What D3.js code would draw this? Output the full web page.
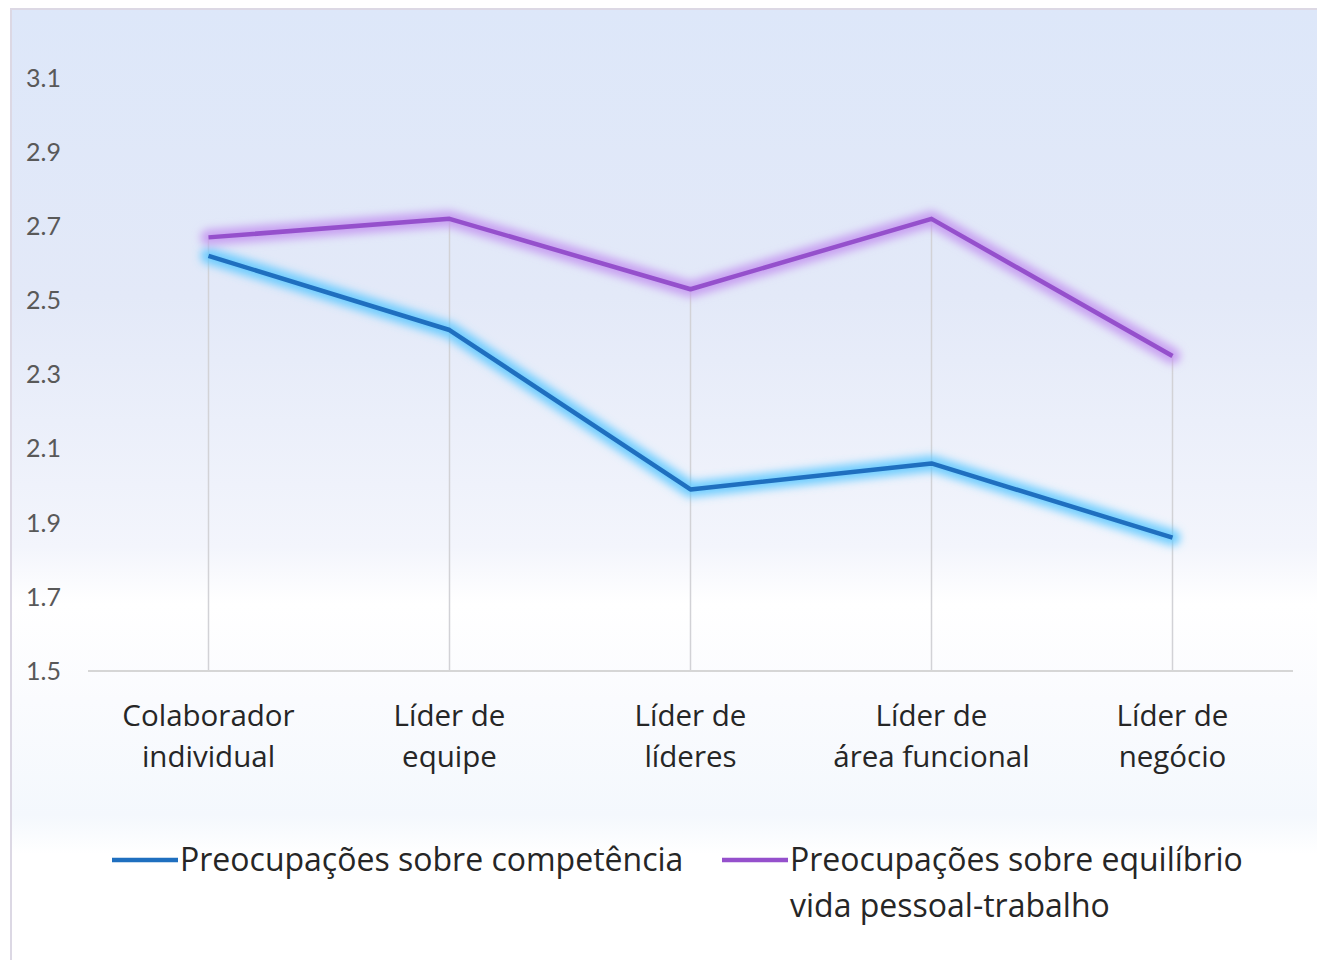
<!DOCTYPE html>
<html lang="pt">
<head>
<meta charset="utf-8">
<title>Preocupações por nível de liderança</title>
<script src="https://cdn.jsdelivr.net/npm/d3@7"></script>
<style>
  body { margin: 0; background: #fff; }
  svg { display: block; font-family: "Open Sans", Lato, sans-serif; }
</style>
</head>
<body>
<script>
// categories (two text lines each)
var categories = ["Colaborador individual", "Líder de equipe", "Líder de líderes", "Líder de área funcional", "Líder de negócio"];
var categoryLines = [["Colaborador", "individual"], ["Líder de", "equipe"], ["Líder de", "líderes"], ["Líder de", "área funcional"], ["Líder de", "negócio"]];

// series values
var competencia = [2.62, 2.42, 1.99, 2.06, 1.86];
var equilibrio = [2.67, 2.72, 2.53, 2.72, 2.35];

var yTicks = [1.5, 1.7, 1.9, 2.1, 2.3, 2.5, 2.7, 2.9, 3.1];

var series = [
  { name: ["Preocupações sobre competência"], values: competencia, color: "#1f6fbf", glow: "#5cc8ff" },
  { name: ["Preocupações sobre equilíbrio", "vida pessoal-trabalho"], values: equilibrio, color: "#9550cc", glow: "#c394f0" }
];

var W = 1317, H = 960;
var svg = d3.select("body").append("svg").attr("width", W).attr("height", H);

var defs = svg.append("defs");
var grad = defs.append("linearGradient").attr("id", "bg").attr("x1", 0).attr("y1", 0).attr("x2", 0).attr("y2", 1);
grad.append("stop").attr("offset", "0%").attr("stop-color", "#dde7f9");
grad.append("stop").attr("offset", "30%").attr("stop-color", "#e3e9f8");
grad.append("stop").attr("offset", "56%").attr("stop-color", "#f3f5fc");
grad.append("stop").attr("offset", "62%").attr("stop-color", "#ffffff");
grad.append("stop").attr("offset", "72%").attr("stop-color", "#fafbfe");
grad.append("stop").attr("offset", "84%").attr("stop-color", "#f4f8fd");
grad.append("stop").attr("offset", "88%").attr("stop-color", "#ffffff");
grad.append("stop").attr("offset", "100%").attr("stop-color", "#ffffff");

var glow = defs.append("filter").attr("id", "glow")
  .attr("x", "-10%").attr("y", "-30%").attr("width", "120%").attr("height", "160%");
glow.append("feGaussianBlur").attr("stdDeviation", 4);

// chart background + border
svg.append("rect")
  .attr("x", 11).attr("y", 9).attr("width", W).attr("height", H)
  .attr("fill", "url(#bg)")
  .attr("stroke", "#dcd8e4").attr("stroke-width", 2);

var x = d3.scaleBand().domain(categories).range([88, 1293]);
var y = d3.scaleLinear().domain([1.5, 3.1]).range([671, 78]);
var cx = function(c) { return x(c) + x.bandwidth() / 2; };

// y tick labels
svg.append("g").selectAll("text").data(yTicks).join("text")
  .attr("x", 61).attr("y", function(d) { return y(d); })
  .attr("dy", "0.35em").attr("text-anchor", "end")
  .attr("font-size", 25).attr("fill", "#595959")
  .attr("font-family", "Lato, sans-serif")
  .text(function(d) { return d3.format(".1f")(d); });

// drop lines
svg.append("g").selectAll("line").data(categories).join("line")
  .attr("x1", cx).attr("x2", cx)
  .attr("y1", function(c, i) { return y(d3.max([competencia[i], equilibrio[i]])); })
  .attr("y2", y(1.5))
  .attr("stroke", "#d2d2d6").attr("stroke-width", 1.5);

// baseline
svg.append("line")
  .attr("x1", 88).attr("x2", 1293).attr("y1", y(1.5)).attr("y2", y(1.5))
  .attr("stroke", "#d6d6d6").attr("stroke-width", 2);

// category labels
var catG = svg.append("g").selectAll("text").data(categories).join("text")
  .attr("x", cx).attr("y", 726)
  .attr("text-anchor", "middle").attr("font-size", 29.5).attr("fill", "#262626");
catG.selectAll("tspan").data(function(c, i) { return categoryLines[i]; }).join("tspan")
  .attr("x", function() { return cx(d3.select(this.parentNode).datum()); })
  .attr("dy", function(d, j) { return j === 0 ? 0 : 41; })
  .text(function(d) { return d; });

// lines
var line = d3.line()
  .x(function(d, i) { return cx(categories[i]); })
  .y(function(d) { return y(d); });

series.forEach(function(s) {
  svg.append("path").datum(s.values)
    .attr("d", line).attr("fill", "none")
    .attr("stroke", s.glow).attr("stroke-width", 16).attr("stroke-opacity", 0.85)
    .attr("stroke-linejoin", "round").attr("stroke-linecap", "round")
    .attr("filter", "url(#glow)");
});
series.forEach(function(s) {
  svg.append("path").datum(s.values)
    .attr("d", line).attr("fill", "none")
    .attr("stroke", s.color).attr("stroke-width", 4.5)
    .attr("stroke-linejoin", "round");
});

// legend
var legendX = [112, 722];
series.forEach(function(s, i) {
  var g = svg.append("g").attr("transform", "translate(" + legendX[i] + ",860)");
  g.append("line").attr("x1", 0).attr("x2", 66).attr("y1", 0).attr("y2", 0)
    .attr("stroke", s.color).attr("stroke-width", 4.5);
  var t = g.append("text").attr("x", 68).attr("y", 0)
    .attr("font-size", 32).attr("fill", "#262626");
  t.selectAll("tspan").data(s.name).join("tspan")
    .attr("x", 68).attr("dy", function(d, j) { return j === 0 ? "0.35em" : 46; })
    .text(function(d) { return d; });
});
</script>
</body>
</html>
